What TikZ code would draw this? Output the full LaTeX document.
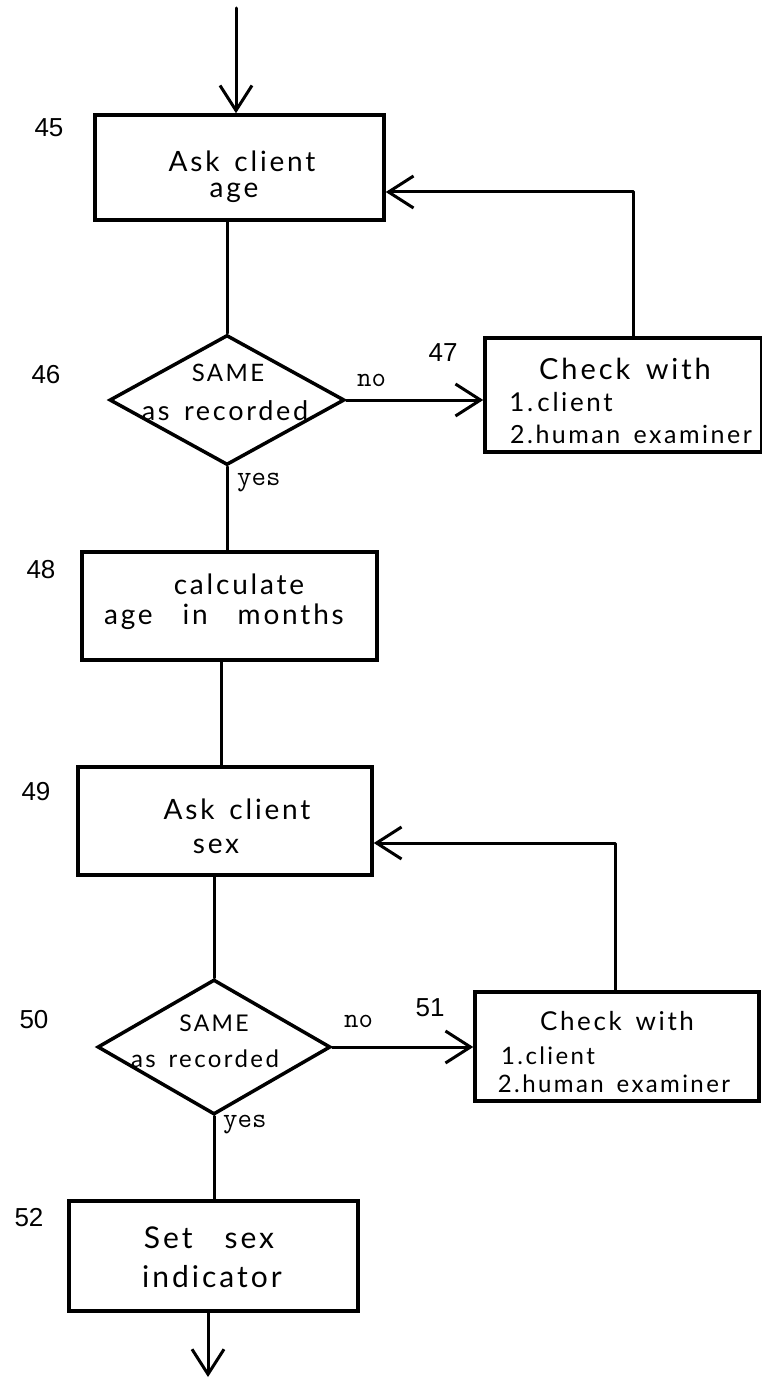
\documentclass[tikz,border=0pt]{standalone}
\usepackage{fontspec}
\newfontfamily\hand{Lato}[LetterSpace=10, WordSpace=1.5]
\newfontfamily\numfont{Liberation Sans}
\usetikzlibrary{arrows.meta,shapes.geometric}

\newcommand{\handat}[1]{\hand\fontsize{#1}{#1}\selectfont}

\begin{document}
\begin{tikzpicture}[x=1pt,y=-1pt,
  flow/.style={line width=3pt, line cap=round, line join=round},
  arr/.style={flow, -{Straight Barb[length=25pt,width=32pt,line width=3pt]}},
  box/.style={draw, rectangle, line width=3.5pt, inner sep=0pt},
  decision/.style={draw, diamond, line width=3.5pt, inner sep=0pt},
  txt/.style={font=\handat{28}, inner sep=0pt},
  numlab/.style={font=\numfont\fontsize{26}{26}\selectfont, inner sep=0pt},
  ans/.style={font=\ttfamily\fontsize{28}{28}\selectfont, inner sep=0pt}
]
\useasboundingbox (0,0) rectangle (761,1380);

% --- age check ---
\node[box, minimum width=289pt, minimum height=105pt] (b45) at (239.5,167.5) {};
\node[txt] (t45a) at (242,161) {Ask client};
\node[txt] (t45b) at (234,193) {age};
\node[numlab] (n45) at (49,128) {45};

\node[decision, minimum width=235pt, minimum height=130pt] (d46) at (227,400) {};
\node[txt, font=\handat{24}] (t46a) at (228,373) {SAME};
\node[txt, font=\handat{27}] (t46b) at (225,411) {as recorded};
\node[numlab] (n46) at (46,375) {46};

\node[box, minimum width=277pt, minimum height=114pt] (b47) at (623.5,395) {};
\node[txt, font=\handat{29}] (t47a) at (625,369) {Check with};
\node[txt, font=\handat{26}] (t47b) at (561,402) {1.\,client};
\node[txt, font=\handat{25}] (t47c) at (631,434) {2.human examiner};
\node[numlab] (n47) at (443,353) {47};

\node[box, minimum width=295pt, minimum height=108pt] (b48) at (229.5,606) {};
\node[txt] (t48a) at (239,584) {calculate};
\node[txt] (t48b) at (224,617) {age \ in \ months};
\node[numlab] (n48) at (41,570) {48};

% --- sex check ---
\node[box, minimum width=294pt, minimum height=108pt] (b49) at (225,821) {};
\node[txt] (t49a) at (237,809) {Ask client};
\node[txt] (t49b) at (216,846) {sex};
\node[numlab] (n49) at (36,792) {49};

\node[decision, minimum width=233pt, minimum height=135pt] (d50) at (214,1047) {};
\node[txt, font=\handat{23}] (t50a) at (214,1023) {SAME};
\node[txt, font=\handat{24}] (t50b) at (205,1059) {as recorded};
\node[numlab] (n50) at (34,1020) {50};

\node[box, minimum width=284pt, minimum height=109pt] (b51) at (617,1046.5) {};
\node[txt, font=\handat{26}] (t51a) at (617,1021) {Check with};
\node[txt, font=\handat{24}] (t51b) at (548,1056) {1.client};
\node[txt, font=\handat{24}] (t51c) at (614,1084) {2.human examiner};
\node[numlab] (n51) at (430,1008) {51};

\node[box, minimum width=289pt, minimum height=110pt] (b52) at (213.5,1256) {};
\node[txt, font=\handat{30}] (t52a) at (209,1238) {Set \ sex};
\node[txt, font=\handat{30}] (t52b) at (212,1277) {indicator};
\node[numlab] (n52) at (29,1218) {52};

% --- branch labels ---
\node[ans, anchor=west] (no46) at (357,380) {no};
\node[ans, anchor=west] (yes46) at (237,483) {yes};
\node[ans, anchor=west] (no50) at (344,1021) {no};
\node[ans, anchor=west] (yes50) at (223,1125) {yes};

% --- connectors ---
\coordinate (in45) at (236,8);
\draw[arr] (in45) -- (in45 |- b45.north);
\draw[flow] (b45.south -| d46.north) -- (d46.north);
\draw[arr] (d46.east) -- (d46.east -| b47.west);
\coordinate (r47) at (633,192);
\draw[arr] (b47.north -| r47) -- (r47) -- (r47 -| b45.east);
\draw[flow] (d46.south) -- (d46.south |- b48.north);
\coordinate (c48) at (221,0);
\draw[flow] (c48 |- b48.south) -- (c48 |- b49.north);
\draw[flow] (b49.south -| d50.north) -- (d50.north);
\draw[arr] (d50.east) -- (d50.east -| b51.west);
\coordinate (r51) at (615,843);
\draw[arr] (b51.north -| r51) -- (r51) -- (r51 -| b49.east);
\draw[flow] (d50.south) -- (d50.south |- b52.north);
\coordinate (out52) at (208,1377);
\draw[arr] (b52.south -| out52) -- (out52);
\end{tikzpicture}
\end{document}
